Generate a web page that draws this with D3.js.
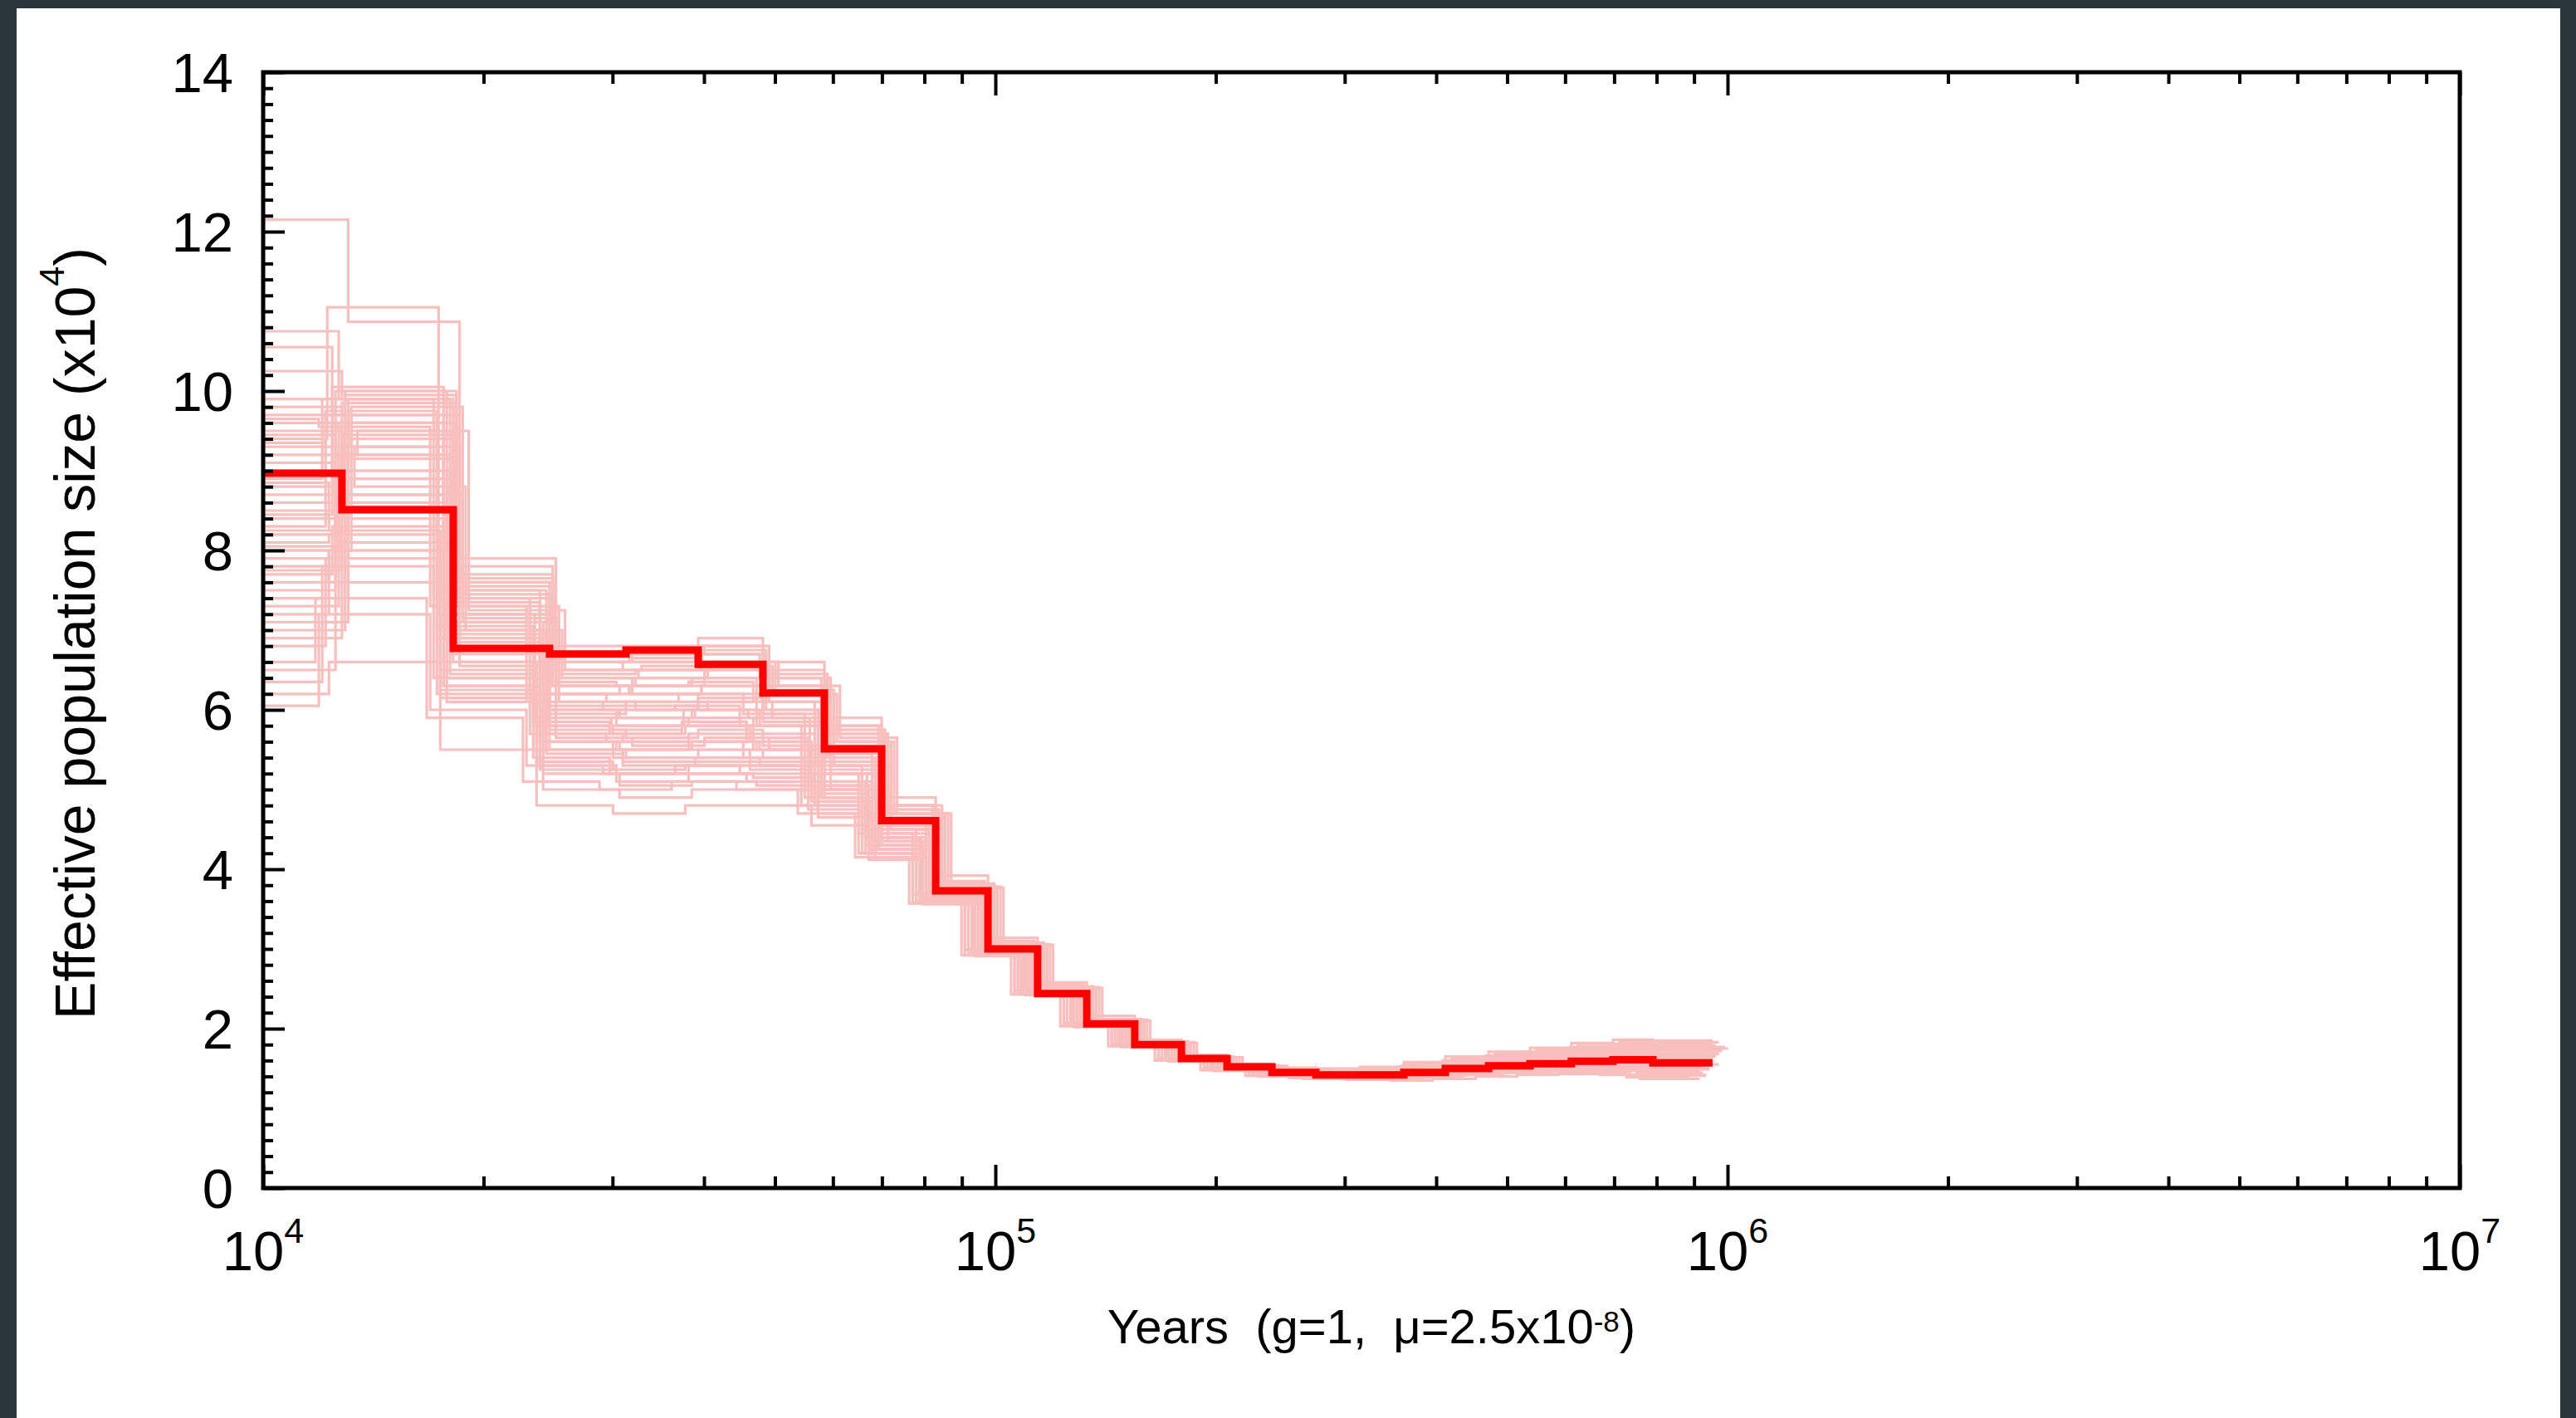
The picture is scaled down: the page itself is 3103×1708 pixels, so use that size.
<!DOCTYPE html>
<html>
<head>
<meta charset="utf-8">
<script src="https://cdn.jsdelivr.net/npm/d3@7"></script>
<style>
  html, body { margin: 0; padding: 0; background: #2a363b; }
  svg { display: block; }
  text { font-family: "Liberation Sans", Arial, Helvetica, sans-serif; fill: #000; }
</style>
</head>
<body>
<div id="psmc-plot"></div>
<script>

// start of each PSMC time interval (years), and where the last one stops
var segStart = [8000, 12810, 18180, 24610, 31300, 39280, 48140, 58410, 69930, 82880,
                97700, 114200, 133300, 155000, 179500, 207200, 238600, 274000, 314600,
                361300, 411700, 471600, 537300, 612000, 697400, 790700];
var segEnd = 954000;

// main estimate, Ne in units of 10^4
var mainNe = [8.97, 8.51, 6.77, 6.70, 6.75, 6.57, 6.21, 5.51, 4.61, 3.73,
              3.00, 2.44, 2.06, 1.80, 1.625, 1.52, 1.45, 1.42, 1.42,
              1.45, 1.50, 1.535, 1.56, 1.59, 1.61, 1.57];

// bootstrap replicates: time scaling of each replicate and its Ne values
var bootShift = [1.02, 0.955, 0.99, 0.97, 1.00, 0.93, 0.96, 0.94, 1.01, 0.98, 1.03, 0.95,
                 1.00, 0.97, 1.04, 0.99, 1.02, 0.96, 0.98, 1.01, 0.92, 0.97, 1.00, 0.99,
                 1.03, 0.95, 1.00, 0.98, 1.02, 0.96, 1.01, 0.99, 0.94, 1.05, 0.97, 1.00,
                 0.98, 1.01, 0.96, 1.03, 0.99, 0.95, 1.00, 0.97, 1.02, 0.93, 1.01, 0.98,
                 1.00, 0.96];

var bootNe = [
  [12.15, 10.87, 7.9, 6.2, 6.4, 6.5, 6.3, 5.6, 4.7, 3.80, 3.05, 2.50, 2.10, 1.83, 1.64, 1.53, 1.47, 1.45, 1.46, 1.50, 1.55, 1.60, 1.64, 1.68, 1.71, 1.69],
  [9.4, 11.05, 7.2, 5.9, 5.8, 6.0, 5.9, 5.2, 4.4, 3.68, 2.98, 2.47, 2.07, 1.81, 1.63, 1.51, 1.44, 1.41, 1.41, 1.44, 1.48, 1.52, 1.55, 1.58, 1.60, 1.56],
  [10.75, 9.9, 7.5, 6.5, 6.6, 6.7, 6.4, 5.8, 4.8, 3.85, 3.10, 2.55, 2.12, 1.84, 1.65, 1.54, 1.48, 1.46, 1.48, 1.53, 1.60, 1.66, 1.71, 1.76, 1.80, 1.78],
  [10.55, 9.6, 7.0, 5.6, 5.5, 5.7, 5.5, 5.0, 4.3, 3.62, 2.95, 2.45, 2.05, 1.79, 1.61, 1.50, 1.43, 1.40, 1.40, 1.43, 1.47, 1.50, 1.53, 1.55, 1.57, 1.52],
  [10.25, 9.9, 7.6, 6.8, 6.8, 6.9, 6.6, 5.9, 4.9, 3.92, 3.14, 2.58, 2.16, 1.86, 1.67, 1.56, 1.51, 1.50, 1.52, 1.58, 1.65, 1.71, 1.76, 1.82, 1.86, 1.85],
  [6.05, 7.2, 6.0, 5.3, 5.2, 5.3, 5.2, 4.8, 4.2, 3.58, 2.92, 2.43, 2.04, 1.78, 1.60, 1.48, 1.41, 1.38, 1.37, 1.38, 1.41, 1.44, 1.46, 1.47, 1.46, 1.40],
  [6.2, 6.6, 5.5, 4.8, 4.7, 4.8, 4.8, 4.55, 4.12, 3.56, 2.91, 2.42, 2.02, 1.77, 1.59, 1.47, 1.40, 1.37, 1.36, 1.35, 1.37, 1.40, 1.42, 1.43, 1.42, 1.37],
  [6.35, 7.8, 6.4, 5.7, 5.6, 5.6, 5.4, 4.9, 4.2, 3.60, 2.94, 2.44, 2.04, 1.79, 1.60, 1.49, 1.42, 1.40, 1.40, 1.42, 1.45, 1.48, 1.50, 1.52, 1.53, 1.48],
  [7.0, 9.5, 7.4, 6.3, 6.2, 6.3, 6.1, 5.5, 4.6, 3.75, 3.02, 2.49, 2.08, 1.81, 1.63, 1.52, 1.46, 1.44, 1.45, 1.49, 1.54, 1.58, 1.62, 1.66, 1.68, 1.65],
  [7.5, 10.0, 7.1, 6.0, 5.9, 6.0, 5.8, 5.2, 4.5, 3.70, 3.00, 2.48, 2.07, 1.80, 1.62, 1.51, 1.45, 1.42, 1.43, 1.46, 1.51, 1.55, 1.58, 1.61, 1.63, 1.60],
  [8.0, 9.8, 7.3, 6.1, 6.0, 6.1, 5.9, 5.3, 4.5, 3.72, 3.03, 2.50, 2.09, 1.82, 1.63, 1.52, 1.47, 1.45, 1.47, 1.51, 1.56, 1.61, 1.66, 1.70, 1.73, 1.72],
  [8.3, 9.7, 6.9, 5.8, 5.7, 5.8, 5.6, 5.0, 4.3, 3.63, 2.96, 2.46, 2.06, 1.80, 1.62, 1.50, 1.43, 1.41, 1.41, 1.43, 1.47, 1.51, 1.53, 1.56, 1.58, 1.54],
  [8.6, 9.4, 6.6, 5.5, 5.4, 5.5, 5.4, 4.9, 4.3, 3.64, 2.97, 2.46, 2.06, 1.80, 1.62, 1.51, 1.44, 1.41, 1.42, 1.45, 1.49, 1.53, 1.56, 1.59, 1.62, 1.58],
  [9.0, 9.2, 6.3, 5.3, 5.2, 5.3, 5.3, 4.85, 4.2, 3.60, 2.94, 2.45, 2.05, 1.79, 1.61, 1.50, 1.43, 1.40, 1.40, 1.42, 1.45, 1.49, 1.51, 1.53, 1.55, 1.50],
  [9.3, 8.8, 7.0, 6.4, 6.5, 6.6, 6.2, 5.6, 4.7, 3.78, 3.06, 2.52, 2.11, 1.83, 1.64, 1.53, 1.48, 1.46, 1.48, 1.53, 1.59, 1.65, 1.70, 1.75, 1.79, 1.77],
  [9.6, 8.4, 6.7, 5.9, 5.9, 6.0, 5.8, 5.2, 4.4, 3.68, 2.99, 2.47, 2.07, 1.80, 1.62, 1.51, 1.45, 1.42, 1.43, 1.47, 1.52, 1.56, 1.60, 1.63, 1.66, 1.62],
  [9.9, 9.0, 7.2, 6.6, 6.7, 6.8, 6.4, 5.7, 4.8, 3.82, 3.08, 2.53, 2.12, 1.84, 1.65, 1.54, 1.49, 1.47, 1.50, 1.55, 1.62, 1.68, 1.74, 1.80, 1.84, 1.83],
  [7.2, 8.0, 6.5, 5.5, 5.4, 5.4, 5.3, 4.9, 4.25, 3.62, 2.95, 2.45, 2.05, 1.79, 1.61, 1.50, 1.43, 1.40, 1.39, 1.41, 1.44, 1.47, 1.49, 1.51, 1.52, 1.46],
  [7.8, 8.6, 6.9, 6.2, 6.3, 6.4, 6.0, 5.4, 4.55, 3.72, 3.01, 2.48, 2.08, 1.81, 1.62, 1.51, 1.45, 1.43, 1.44, 1.48, 1.53, 1.57, 1.61, 1.64, 1.67, 1.63],
  [8.2, 9.95, 7.7, 6.5, 6.5, 6.6, 6.3, 5.7, 4.7, 3.78, 3.04, 2.51, 2.10, 1.82, 1.64, 1.53, 1.47, 1.45, 1.47, 1.51, 1.57, 1.62, 1.67, 1.71, 1.75, 1.73],
  [6.6, 7.4, 5.9, 5.1, 5.0, 5.1, 5.0, 4.7, 4.15, 3.57, 2.92, 2.43, 2.03, 1.78, 1.60, 1.48, 1.41, 1.38, 1.37, 1.38, 1.40, 1.43, 1.45, 1.46, 1.45, 1.39],
  [8.8, 9.6, 7.35, 6.0, 5.8, 5.9, 5.7, 5.1, 4.4, 3.66, 2.98, 2.47, 2.06, 1.80, 1.62, 1.51, 1.44, 1.42, 1.42, 1.45, 1.50, 1.54, 1.57, 1.60, 1.62, 1.58],
  [9.5, 8.9, 6.8, 6.0, 6.1, 6.2, 5.95, 5.35, 4.5, 3.70, 3.00, 2.48, 2.07, 1.81, 1.62, 1.51, 1.45, 1.43, 1.44, 1.48, 1.53, 1.57, 1.61, 1.65, 1.68, 1.64],
  [7.9, 9.2, 7.0, 5.7, 5.6, 5.6, 5.5, 5.0, 4.35, 3.65, 2.97, 2.46, 2.06, 1.80, 1.62, 1.50, 1.44, 1.41, 1.41, 1.44, 1.48, 1.52, 1.55, 1.57, 1.59, 1.55],
  [8.7, 8.7, 7.1, 6.3, 6.4, 6.5, 6.2, 5.55, 4.65, 3.76, 3.04, 2.51, 2.10, 1.82, 1.64, 1.53, 1.47, 1.45, 1.47, 1.52, 1.58, 1.63, 1.68, 1.72, 1.76, 1.74],
  [6.8, 7.9, 6.2, 5.4, 5.2, 5.2, 5.1, 4.75, 4.2, 3.59, 2.93, 2.44, 2.04, 1.78, 1.60, 1.49, 1.42, 1.39, 1.38, 1.40, 1.42, 1.45, 1.47, 1.49, 1.49, 1.43],
  [8.4, 9.3, 7.45, 6.7, 6.7, 6.8, 6.5, 5.8, 4.8, 3.80, 3.06, 2.52, 2.11, 1.83, 1.65, 1.54, 1.48, 1.46, 1.49, 1.54, 1.60, 1.66, 1.71, 1.77, 1.81, 1.80],
  [9.1, 8.0, 6.4, 5.6, 5.5, 5.6, 5.5, 5.0, 4.3, 3.64, 2.96, 2.46, 2.06, 1.80, 1.61, 1.50, 1.43, 1.41, 1.41, 1.44, 1.48, 1.51, 1.54, 1.56, 1.58, 1.54],
  [7.6, 9.7, 7.55, 6.4, 6.3, 6.4, 6.1, 5.45, 4.6, 3.74, 3.02, 2.50, 2.09, 1.81, 1.63, 1.52, 1.46, 1.44, 1.46, 1.50, 1.55, 1.60, 1.64, 1.68, 1.71, 1.68],
  [8.1, 8.2, 6.6, 5.8, 5.7, 5.8, 5.6, 5.05, 4.35, 3.66, 2.97, 2.46, 2.06, 1.80, 1.61, 1.50, 1.44, 1.41, 1.42, 1.45, 1.49, 1.53, 1.56, 1.59, 1.61, 1.57],
  [9.8, 10.0, 7.8, 6.6, 6.6, 6.7, 6.4, 5.75, 4.75, 3.80, 3.06, 2.52, 2.10, 1.83, 1.64, 1.53, 1.48, 1.46, 1.48, 1.53, 1.59, 1.64, 1.69, 1.74, 1.78, 1.76],
  [7.3, 9.0, 6.95, 5.5, 5.35, 5.4, 5.35, 4.9, 4.25, 3.62, 2.95, 2.45, 2.05, 1.79, 1.61, 1.50, 1.43, 1.40, 1.40, 1.42, 1.46, 1.49, 1.52, 1.54, 1.55, 1.50],
  [8.9, 9.9, 7.4, 6.2, 6.1, 6.2, 5.95, 5.3, 4.5, 3.70, 3.00, 2.48, 2.07, 1.81, 1.62, 1.51, 1.45, 1.43, 1.44, 1.47, 1.52, 1.56, 1.60, 1.63, 1.65, 1.61],
  [9.2, 9.5, 7.25, 6.5, 6.55, 6.6, 6.3, 5.65, 4.7, 3.77, 3.05, 2.51, 2.10, 1.82, 1.64, 1.53, 1.47, 1.45, 1.47, 1.52, 1.58, 1.63, 1.68, 1.73, 1.77, 1.75],
  [7.7, 8.3, 6.3, 5.25, 5.1, 5.2, 5.15, 4.8, 4.2, 3.58, 2.93, 2.44, 2.04, 1.78, 1.60, 1.49, 1.42, 1.39, 1.39, 1.41, 1.43, 1.46, 1.48, 1.50, 1.51, 1.45],
  [8.5, 9.85, 7.0, 5.95, 6.0, 6.1, 5.85, 5.25, 4.45, 3.69, 2.99, 2.48, 2.07, 1.81, 1.62, 1.51, 1.45, 1.42, 1.43, 1.46, 1.51, 1.55, 1.59, 1.62, 1.65, 1.61],
  [6.5, 8.9, 6.1, 5.0, 4.9, 5.0, 5.0, 4.65, 4.15, 3.57, 2.92, 2.43, 2.03, 1.78, 1.60, 1.48, 1.41, 1.38, 1.38, 1.39, 1.42, 1.45, 1.47, 1.48, 1.48, 1.42],
  [7.4, 9.6, 7.6, 6.3, 6.2, 6.3, 6.0, 5.4, 4.55, 3.73, 3.01, 2.49, 2.08, 1.81, 1.63, 1.52, 1.46, 1.43, 1.45, 1.49, 1.54, 1.59, 1.63, 1.67, 1.70, 1.67],
  [8.0, 7.6, 6.25, 5.6, 5.5, 5.5, 5.4, 4.95, 4.3, 3.63, 2.96, 2.46, 2.05, 1.79, 1.61, 1.50, 1.43, 1.41, 1.41, 1.43, 1.47, 1.50, 1.53, 1.55, 1.56, 1.51],
  [9.7, 9.3, 7.15, 6.45, 6.5, 6.55, 6.25, 5.6, 4.7, 3.78, 3.05, 2.51, 2.10, 1.82, 1.64, 1.53, 1.47, 1.46, 1.48, 1.52, 1.58, 1.64, 1.69, 1.74, 1.78, 1.76],
  [8.25, 8.1, 6.45, 5.45, 5.3, 5.35, 5.3, 4.9, 4.25, 3.61, 2.95, 2.45, 2.05, 1.79, 1.61, 1.50, 1.43, 1.40, 1.40, 1.42, 1.45, 1.48, 1.51, 1.53, 1.54, 1.49],
  [9.35, 9.75, 7.05, 5.85, 5.75, 5.85, 5.65, 5.1, 4.4, 3.67, 2.98, 2.47, 2.06, 1.80, 1.62, 1.51, 1.44, 1.42, 1.42, 1.45, 1.49, 1.53, 1.56, 1.59, 1.61, 1.57],
  [6.9, 8.5, 6.75, 6.05, 6.05, 6.15, 5.9, 5.3, 4.5, 3.71, 3.00, 2.48, 2.07, 1.81, 1.62, 1.51, 1.45, 1.43, 1.44, 1.47, 1.52, 1.56, 1.60, 1.63, 1.66, 1.62],
  [8.45, 10.05, 7.5, 6.35, 6.3, 6.35, 6.1, 5.45, 4.6, 3.74, 3.02, 2.49, 2.08, 1.81, 1.63, 1.52, 1.46, 1.44, 1.45, 1.49, 1.54, 1.59, 1.63, 1.67, 1.70, 1.67],
  [7.1, 8.7, 6.55, 5.65, 5.55, 5.65, 5.5, 5.0, 4.35, 3.65, 2.97, 2.46, 2.06, 1.80, 1.62, 1.50, 1.44, 1.41, 1.42, 1.44, 1.48, 1.52, 1.55, 1.58, 1.60, 1.55],
  [9.65, 9.55, 7.3, 6.1, 6.0, 6.05, 5.8, 5.2, 4.45, 3.68, 2.99, 2.47, 2.07, 1.80, 1.62, 1.51, 1.45, 1.42, 1.43, 1.46, 1.50, 1.54, 1.58, 1.61, 1.63, 1.59],
  [8.05, 9.15, 7.65, 6.6, 6.65, 6.75, 6.45, 5.75, 4.75, 3.79, 3.06, 2.52, 2.11, 1.83, 1.64, 1.53, 1.48, 1.46, 1.49, 1.54, 1.60, 1.66, 1.71, 1.76, 1.80, 1.79],
  [9.45, 8.55, 6.85, 5.2, 5.05, 5.1, 5.05, 4.7, 4.15, 3.57, 2.92, 2.43, 2.03, 1.78, 1.60, 1.48, 1.41, 1.38, 1.38, 1.39, 1.42, 1.45, 1.46, 1.47, 1.47, 1.41],
  [7.75, 9.45, 7.2, 5.75, 5.65, 5.75, 5.55, 5.05, 4.35, 3.65, 2.97, 2.46, 2.06, 1.80, 1.61, 1.50, 1.44, 1.41, 1.41, 1.44, 1.48, 1.52, 1.54, 1.57, 1.59, 1.55],
  [8.85, 8.25, 6.15, 5.35, 5.25, 5.3, 5.25, 4.85, 4.25, 3.61, 2.95, 2.45, 2.05, 1.79, 1.61, 1.50, 1.43, 1.40, 1.40, 1.42, 1.45, 1.48, 1.50, 1.52, 1.53, 1.48]
];

var yTickValues = [0, 2, 4, 6, 8, 10, 12, 14];
var xTickPowers = [4, 5, 6, 7];

function drawPsmc() {
  var w = 3103, h = 1708,
      plotLeft = 317, plotRight = 2963, plotTop = 87, plotBottom = 1431;

  var svg = d3.select("#psmc-plot").append("svg")
        .attr("width", w)
        .attr("height", h);

  // white sheet on the dark page
  svg.append("rect")
    .attr("x", 20).attr("y", 10)
    .attr("width", 3064).attr("height", h - 10)
    .attr("fill", "#fff");

  var x = d3.scaleLog().domain([1e4, 1e7]).range([plotLeft, plotRight]);
  var y = d3.scaleLinear().domain([0, 14]).range([plotBottom, plotTop]);

  svg.append("clipPath")
    .attr("id", "plot-clip")
    .append("rect")
    .attr("x", plotLeft).attr("y", plotTop)
    .attr("width", plotRight - plotLeft).attr("height", plotBottom - plotTop);

  function stepPoints(values, s) {
    var pts = segStart.map((t, i) => [t * s, values[i]]);
    pts.push([segEnd * s, values[values.length - 1]]);
    return pts;
  }

  var line = d3.line()
        .x((d) => x(d[0]))
        .y((d) => y(d[1]))
        .curve(d3.curveStepAfter);

  var plot = svg.append("g").attr("clip-path", "url(#plot-clip)");

  plot.append("g")
    .attr("class", "bootstraps")
    .selectAll("path")
    .data(bootNe)
    .enter().append("path")
    .attr("d", (d, i) => line(stepPoints(d, bootShift[i])))
    .attr("fill", "none")
    .attr("stroke", "#f8bfbf")
    .attr("stroke-width", 3.2);

  plot.append("path")
    .attr("d", line(stepPoints(mainNe, 1)))
    .attr("fill", "none")
    .attr("stroke", "#ff0000")
    .attr("stroke-width", 9)
    .attr("stroke-linejoin", "miter");

  // ticks: majors and minors, pointing inward on bottom/top/left
  var xMajor = xTickPowers.map((p) => Math.pow(10, p));
  var xMinor = [];
  [1e4, 1e5, 1e6].forEach((p) => { for (var k = 2; k < 10; k++) xMinor.push(p * k); });
  var yMinor = d3.range(0, 70).map((i) => i * 0.2).filter((v) => Math.round(v * 10) % 20 != 0);

  function tickAxis(axis, translate) {
    var g = svg.append("g")
      .attr("transform", translate)
      .call(axis.tickFormat(""));
    g.select(".domain").remove();
    g.selectAll(".tick line").attr("stroke", "#000").attr("stroke-width", 4);
    return g;
  }

  tickAxis(d3.axisBottom(x).tickValues(xMajor).tickSize(-28), "translate(0," + plotBottom + ")");
  tickAxis(d3.axisBottom(x).tickValues(xMinor).tickSize(-14), "translate(0," + plotBottom + ")");
  tickAxis(d3.axisTop(x).tickValues(xMajor).tickSize(-28), "translate(0," + plotTop + ")");
  tickAxis(d3.axisTop(x).tickValues(xMinor).tickSize(-14), "translate(0," + plotTop + ")");
  tickAxis(d3.axisLeft(y).tickValues(yTickValues).tickSize(-26), "translate(" + plotLeft + ",0)");
  tickAxis(d3.axisLeft(y).tickValues(yMinor).tickSize(-12), "translate(" + plotLeft + ",0)");

  // frame
  svg.append("rect")
    .attr("x", plotLeft).attr("y", plotTop)
    .attr("width", plotRight - plotLeft).attr("height", plotBottom - plotTop)
    .attr("fill", "none")
    .attr("stroke", "#000")
    .attr("stroke-width", 5);

  // y tick labels
  svg.append("g")
    .selectAll("text")
    .data(yTickValues)
    .enter().append("text")
    .attr("x", plotLeft - 36)
    .attr("y", (d) => y(d))
    .attr("dy", "0.36em")
    .attr("text-anchor", "end")
    .attr("font-size", 67)
    .text((d) => d);

  // x tick labels 10^p
  var xl = svg.append("g")
    .selectAll("text")
    .data(xTickPowers)
    .enter().append("text")
    .attr("x", (d) => x(Math.pow(10, d)))
    .attr("y", 1530)
    .attr("text-anchor", "middle")
    .attr("font-size", 67);
  xl.append("tspan").text("10");
  xl.append("tspan").attr("font-size", 43).attr("dy", -33).text((d) => d);

  // axis titles
  var xt = svg.append("text")
    .attr("x", 1652)
    .attr("y", 1618)
    .attr("text-anchor", "middle")
    .attr("font-size", 58)
    .style("white-space", "pre");
  xt.append("tspan").text("Years  (g=1,  \u03bc=2.5x10");
  xt.append("tspan").attr("font-size", 35).attr("dy", -14).text("-8");
  xt.append("tspan").attr("dy", 14).text(")");

  var yt = svg.append("text")
    .attr("transform", "translate(114," + ((plotTop + plotBottom) / 2 + 4) + ") rotate(-90)")
    .attr("text-anchor", "middle")
    .attr("font-size", 68);
  yt.append("tspan").text("Effective population size (x10");
  yt.append("tspan").attr("font-size", 43).attr("dy", -37).text("4");
  yt.append("tspan").attr("dy", 37).text(")");
}

drawPsmc();

</script>
</body>
</html>
